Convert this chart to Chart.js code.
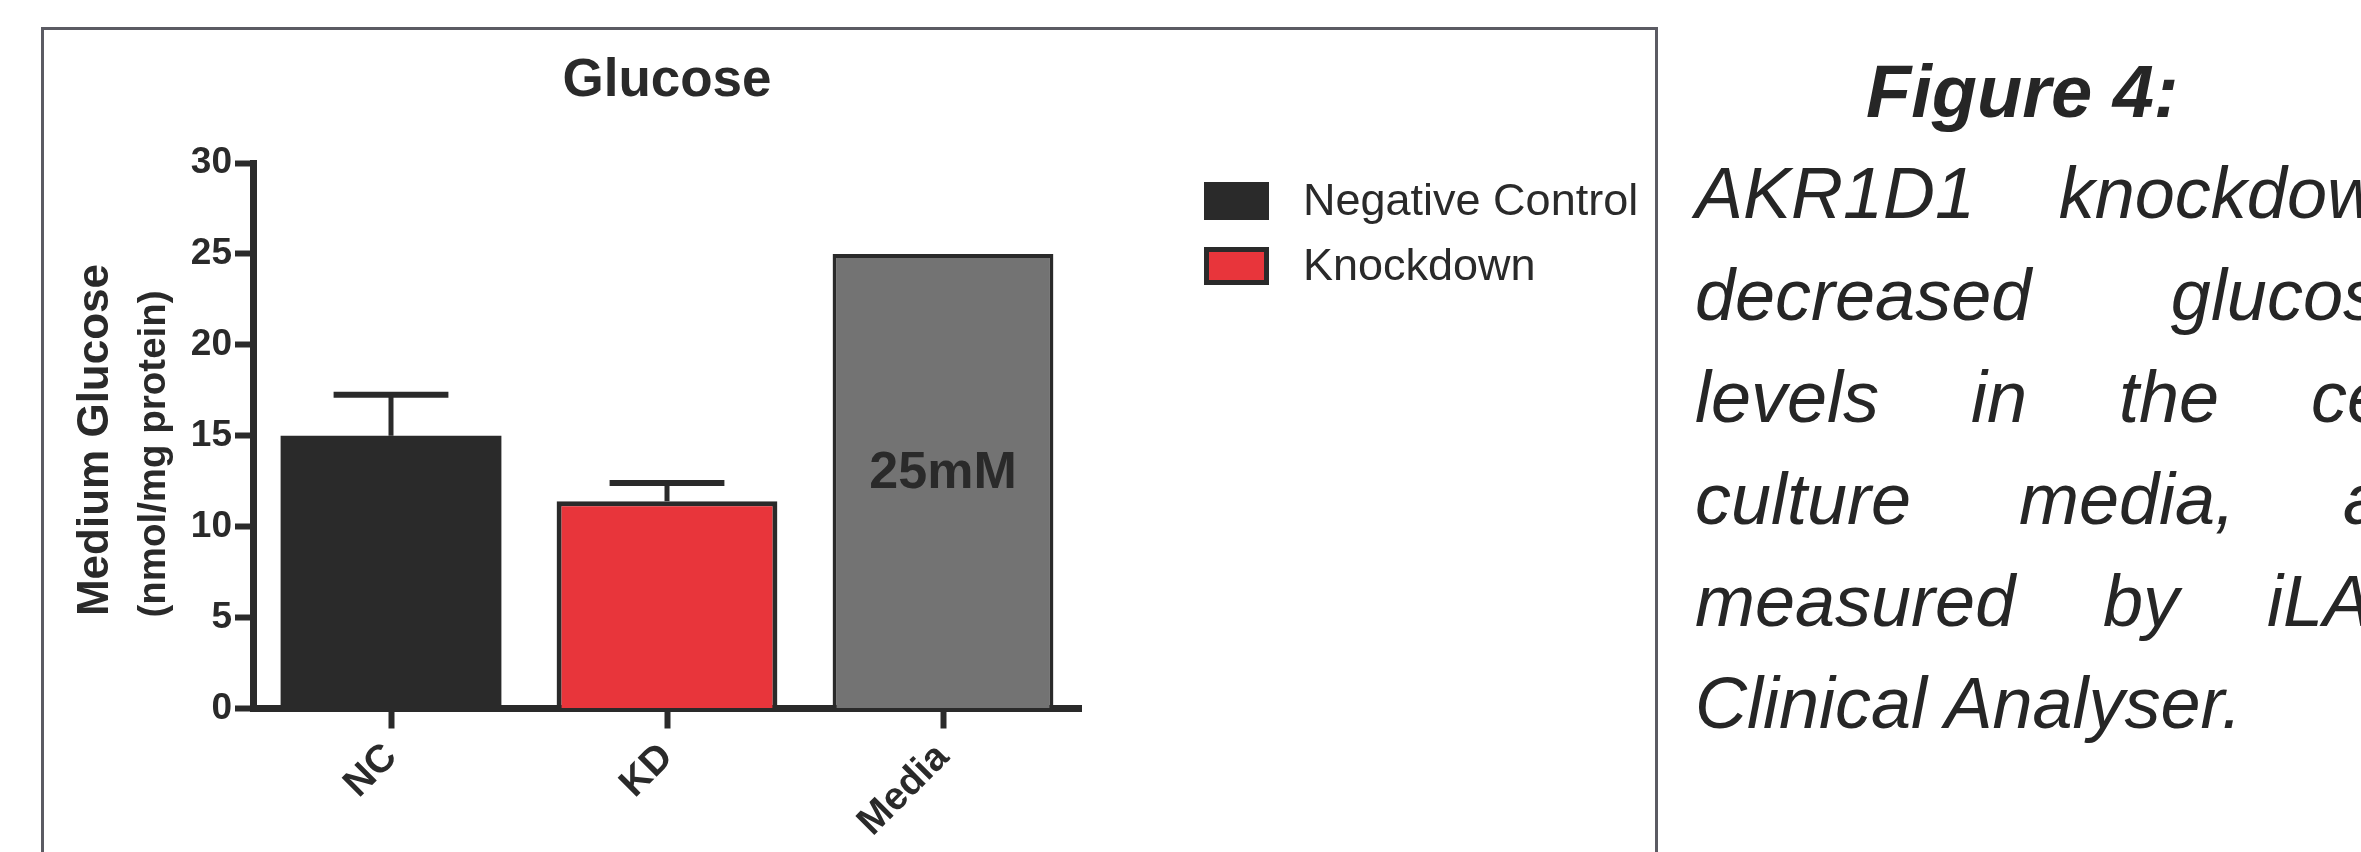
<!DOCTYPE html>
<html>
<head>
<meta charset="utf-8">
<title>Glucose</title>
<script src="https://cdn.jsdelivr.net/npm/chart.js@4.4.0/dist/chart.umd.min.js"></script>
<style>
  html, body { margin: 0; padding: 0; background: #ffffff; overflow: hidden; }
  #stage { position: relative; width: 2361px; height: 852px; overflow: hidden; }
  #frame { position: absolute; left: 41px; top: 27px; width: 1617px; height: 900px;
           border: 3px solid #5b5b63; box-sizing: border-box; }
  #chart { position: absolute; left: 0; top: 0; }
  .fig-head { position: absolute; left: 1866px; top: 55px; white-space: nowrap;
              font: italic bold 74px "Liberation Sans", Arial, sans-serif; line-height: 74px; color: #262626; }
  .fig-line { position: absolute; left: 1695px; width: 724px; height: 102px;
              font: italic 72px "Liberation Sans", Arial, sans-serif; line-height: 102px; color: #262626;
              text-align: justify; text-align-last: justify; }
  .fig-line.last { text-align-last: left; white-space: nowrap; }
</style>
</head>
<body>
<div id="stage">
  <div id="frame"></div>
  <canvas id="chart" width="2361" height="852"></canvas>
  <div id="caption"></div>
</div>
<script>
// ---- chart data ----
const categories = ['NC', 'KD', 'Media'];
const glucoseMeans = [15.0, 11.4, 25];
const glucoseSem = [2.25, 1.0, null];
const barFills = ['#2a2a2a', '#e8353b', '#737373'];
const barBorderWidths = [0, 5, 4];
const legendNames = ['Negative Control', 'Knockdown'];
const legendFills = ['#2a2a2a', '#e8353b'];
const yTickValues = [0, 5, 10, 15, 20, 25, 30];
const yTitleLines = ['Medium Glucose', '(nmol/mg protein)'];
const chartTitle = 'Glucose';
const mediaIndex = 2;
const mediaUnit = 'mM';

// ---- caption text ----
const captionHead = 'Figure 4:';
const captionLines = [
  'AKR1D1 knockdown',
  'decreased glucose',
  'levels in the cell',
  'culture media, as',
  'measured by iLAB',
  'Clinical Analyser.'
];

const INK = '#2a2a2a';
const FONT = '"Liberation Sans", Arial, Helvetica, sans-serif';

// caption block beside the chart
(function buildCaption() {
  const box = document.getElementById('caption');
  const head = document.createElement('div');
  head.className = 'fig-head';
  head.textContent = captionHead;
  box.appendChild(head);
  captionLines.forEach((txt, i) => {
    const d = document.createElement('div');
    d.className = 'fig-line' + (i === captionLines.length - 1 ? ' last' : '');
    d.style.top = (142 + i * 102) + 'px';
    d.textContent = txt;
    box.appendChild(d);
  });
})();

// upper SEM whiskers drawn through the y scale
const errorBarsPlugin = {
  id: 'errorBars',
  afterDatasetsDraw(chart) {
    const ctx = chart.ctx;
    const y = chart.scales.y;
    const meta = chart.getDatasetMeta(0);
    ctx.save();
    ctx.strokeStyle = INK;
    ctx.lineCap = 'butt';
    meta.data.forEach((bar, i) => {
      const err = glucoseSem[i];
      if (err == null) return;
      const yVal = y.getPixelForValue(glucoseMeans[i]);
      const yTop = y.getPixelForValue(glucoseMeans[i] + err);
      const half = bar.width * 0.26;
      ctx.lineWidth = 5;
      ctx.beginPath();
      ctx.moveTo(bar.x, yVal);
      ctx.lineTo(bar.x, yTop);
      ctx.stroke();
      ctx.lineWidth = 6;
      ctx.beginPath();
      ctx.moveTo(bar.x - half, yTop);
      ctx.lineTo(bar.x + half, yTop);
      ctx.stroke();
    });
    ctx.restore();
  }
};

// concentration note inside the Media bar
const mediaNotePlugin = {
  id: 'mediaNote',
  afterDatasetsDraw(chart) {
    const bar = chart.getDatasetMeta(0).data[mediaIndex];
    const ctx = chart.ctx;
    ctx.save();
    ctx.fillStyle = INK;
    ctx.font = 'bold 52px ' + FONT;
    ctx.textAlign = 'center';
    ctx.textBaseline = 'middle';
    ctx.fillText(glucoseMeans[mediaIndex] + mediaUnit, bar.x, bar.y + (bar.base - bar.y) * 0.485);
    ctx.restore();
  }
};

// two-line rotated y-axis title
const yTitlePlugin = {
  id: 'yTitle',
  afterDraw(chart) {
    const ctx = chart.ctx;
    const area = chart.chartArea;
    const specs = [
      { text: yTitleLines[0], size: 44, x: area.left - 145, y: 440 },
      { text: yTitleLines[1], size: 38.5, x: area.left - 88, y: 454 }
    ];
    ctx.save();
    ctx.fillStyle = INK;
    ctx.textAlign = 'center';
    ctx.textBaseline = 'alphabetic';
    specs.forEach(s => {
      ctx.save();
      ctx.translate(s.x, s.y);
      ctx.rotate(-Math.PI / 2);
      ctx.font = 'bold ' + s.size + 'px ' + FONT;
      ctx.fillText(s.text, 0, 0);
      ctx.restore();
    });
    ctx.restore();
  }
};

// legend swatches to the right of the plot
const legendPlugin = {
  id: 'sideLegend',
  afterDraw(chart) {
    const ctx = chart.ctx;
    const area = chart.chartArea;
    const x0 = area.right + 123;
    const w = 65, h = 38, gap = 65;
    ctx.save();
    legendNames.forEach((name, i) => {
      const top = 182 + i * gap;
      ctx.fillStyle = INK;
      ctx.fillRect(x0, top, w, h);
      ctx.fillStyle = legendFills[i];
      ctx.fillRect(x0 + 5, top + 5, w - 10, h - 10);
      ctx.fillStyle = INK;
      ctx.font = '45px ' + FONT;
      ctx.textAlign = 'left';
      ctx.textBaseline = 'alphabetic';
      ctx.fillText(name, x0 + 99, top + 33);
    });
    ctx.restore();
  }
};

new Chart(document.getElementById('chart'), {
  type: 'bar',
  data: {
    labels: categories,
    datasets: [{
      label: chartTitle,
      data: glucoseMeans,
      backgroundColor: barFills,
      borderColor: INK,
      borderWidth: barBorderWidths,
      borderSkipped: 'bottom',
      categoryPercentage: 0.8,
      barPercentage: 1.0
    }]
  },
  options: {
    responsive: false,
    animation: false,
    devicePixelRatio: 1,
    layout: { padding: { left: 153, right: 1280, top: 20, bottom: 3.5 } },
    plugins: {
      legend: { display: false },
      tooltip: { enabled: false },
      title: {
        display: true,
        text: chartTitle,
        fullSize: false,
        color: INK,
        font: { family: FONT, size: 53, weight: 'bold' },
        padding: { top: 30, bottom: 49.4 }
      }
    },
    scales: {
      x: {
        afterFit(s) { s.height = 140; },
        grid: { display: true, offset: false, drawOnChartArea: false, drawTicks: true,
                tickLength: 20, tickWidth: 6, tickColor: INK },
        border: { display: true, width: 7, color: INK },
        ticks: { minRotation: 45, maxRotation: 45, padding: 6, color: INK,
                 font: { family: FONT, size: 39, weight: 'bold' } }
      },
      y: {
        min: 0,
        max: 30,
        afterFit(s) { s.width = 100; },
        afterBuildTicks(s) { s.ticks = yTickValues.map(v => ({ value: v })); },
        grid: { display: true, drawOnChartArea: false, drawTicks: true,
                tickLength: 18, tickWidth: 6, tickColor: INK },
        border: { display: true, width: 7, color: INK },
        ticks: { padding: 3, color: INK, font: { family: FONT, size: 37, weight: 'bold' } }
      }
    }
  },
  plugins: [errorBarsPlugin, mediaNotePlugin, yTitlePlugin, legendPlugin]
});
</script>
</body>
</html>
